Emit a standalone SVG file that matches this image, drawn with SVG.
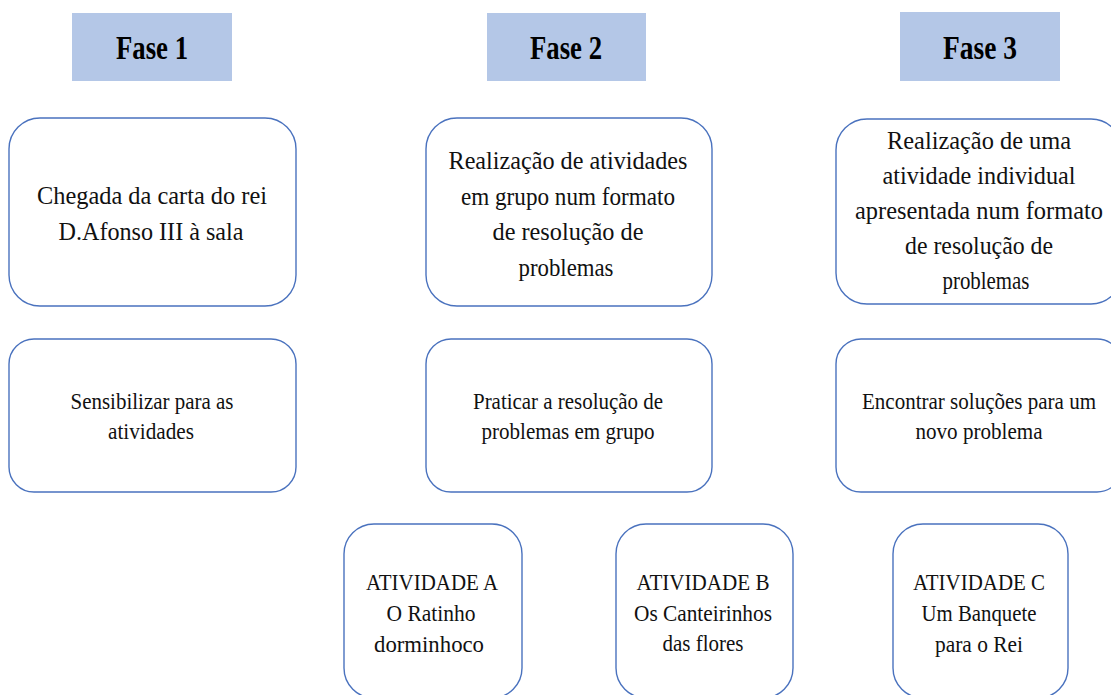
<svg xmlns="http://www.w3.org/2000/svg" width="1111" height="695" viewBox="0 0 1111 695">
<style>
.hdr{fill:#b4c7e7;stroke:none}
.box{fill:#ffffff;stroke:#4a72be;stroke-width:1.4}
.h{font-size:34px;font-weight:bold;fill:#000}
.t1{font-size:26px}
.t2{font-size:24px}
</style>
<rect width="1111" height="695" fill="#ffffff"/>
<g id="connectors"></g>
<g font-family="'Liberation Serif', 'Times New Roman', serif" fill="#111" text-anchor="middle">
<g id="fase1">
<rect class="hdr" x="72" y="13" width="160" height="68"/>
<text class="h" x="152" y="59" textLength="72" lengthAdjust="spacingAndGlyphs">Fase 1</text>
</g>
<g id="fase2">
<rect class="hdr" x="487" y="13" width="159" height="68"/>
<text class="h" x="566" y="59" textLength="72" lengthAdjust="spacingAndGlyphs">Fase 2</text>
</g>
<g id="fase3">
<rect class="hdr" x="900" y="12" width="160" height="69"/>
<text class="h" x="980" y="59" textLength="74" lengthAdjust="spacingAndGlyphs">Fase 3</text>
</g>

<g id="box1">
<rect class="box" x="9" y="118" width="287" height="188" rx="31" ry="31"/>
<text class="t1" x="152" y="204" textLength="230" lengthAdjust="spacingAndGlyphs">Chegada da carta do rei</text>
<text class="t1" x="151" y="240" textLength="185" lengthAdjust="spacingAndGlyphs">D.Afonso III à sala</text>
</g>
<g id="box2">
<rect class="box" x="426" y="118" width="286" height="188" rx="31" ry="31"/>
<text class="t1" x="568" y="169" textLength="239" lengthAdjust="spacingAndGlyphs">Realização de atividades</text>
<text class="t1" x="568" y="204.5" textLength="214" lengthAdjust="spacingAndGlyphs">em grupo num formato</text>
<text class="t1" x="568" y="240" textLength="151" lengthAdjust="spacingAndGlyphs">de resolução de</text>
<text class="t1" x="566" y="275.5" textLength="95" lengthAdjust="spacingAndGlyphs">problemas</text>
</g>
<g id="box3">
<rect class="box" x="836" y="119" width="286" height="185" rx="31" ry="31"/>
<text class="t1" x="979" y="149" textLength="184" lengthAdjust="spacingAndGlyphs">Realização de uma</text>
<text class="t1" x="979" y="184" textLength="193" lengthAdjust="spacingAndGlyphs">atividade individual</text>
<text class="t1" x="979" y="219" textLength="248" lengthAdjust="spacingAndGlyphs">apresentada num formato</text>
<text class="t1" x="979" y="254" textLength="148" lengthAdjust="spacingAndGlyphs">de resolução de</text>
<text class="t1" x="986" y="289" textLength="87" lengthAdjust="spacingAndGlyphs">problemas</text>
</g>

<g id="box4">
<rect class="box" x="9" y="339" width="287" height="153" rx="25" ry="25"/>
<text class="t2" x="152" y="409" textLength="163" lengthAdjust="spacingAndGlyphs">Sensibilizar para as</text>
<text class="t2" x="151" y="439" textLength="86" lengthAdjust="spacingAndGlyphs">atividades</text>
</g>
<g id="box5">
<rect class="box" x="426" y="339" width="286" height="153" rx="25" ry="25"/>
<text class="t2" x="568" y="409" textLength="190" lengthAdjust="spacingAndGlyphs">Praticar a resolução de</text>
<text class="t2" x="568" y="439" textLength="173" lengthAdjust="spacingAndGlyphs">problemas em grupo</text>
</g>
<g id="box6">
<rect class="box" x="836" y="339" width="286" height="153" rx="25" ry="25"/>
<text class="t2" x="979" y="409" textLength="234" lengthAdjust="spacingAndGlyphs">Encontrar soluções para um</text>
<text class="t2" x="979" y="439" textLength="127" lengthAdjust="spacingAndGlyphs">novo problema</text>
</g>

<g id="atividadeA">
<rect class="box" x="344" y="524" width="178" height="174" rx="30" ry="30"/>
<text class="t2" x="432" y="590" textLength="132" lengthAdjust="spacingAndGlyphs">ATIVIDADE A</text>
<text class="t2" x="431" y="621" textLength="89" lengthAdjust="spacingAndGlyphs">O Ratinho</text>
<text class="t2" x="429" y="652" textLength="110" lengthAdjust="spacingAndGlyphs">dorminhoco</text>
</g>
<g id="atividadeB">
<rect class="box" x="616" y="524" width="177" height="174" rx="30" ry="30"/>
<text class="t2" x="703" y="590" textLength="133" lengthAdjust="spacingAndGlyphs">ATIVIDADE B</text>
<text class="t2" x="703" y="621" textLength="138" lengthAdjust="spacingAndGlyphs">Os Canteirinhos</text>
<text class="t2" x="703" y="651" textLength="81" lengthAdjust="spacingAndGlyphs">das flores</text>
</g>
<g id="atividadeC">
<rect class="box" x="893" y="524" width="175" height="174" rx="30" ry="30"/>
<text class="t2" x="979" y="590" textLength="132" lengthAdjust="spacingAndGlyphs">ATIVIDADE C</text>
<text class="t2" x="979" y="621" textLength="115" lengthAdjust="spacingAndGlyphs">Um Banquete</text>
<text class="t2" x="979" y="652" textLength="88" lengthAdjust="spacingAndGlyphs">para o Rei</text>
</g>
</g>
</svg>
